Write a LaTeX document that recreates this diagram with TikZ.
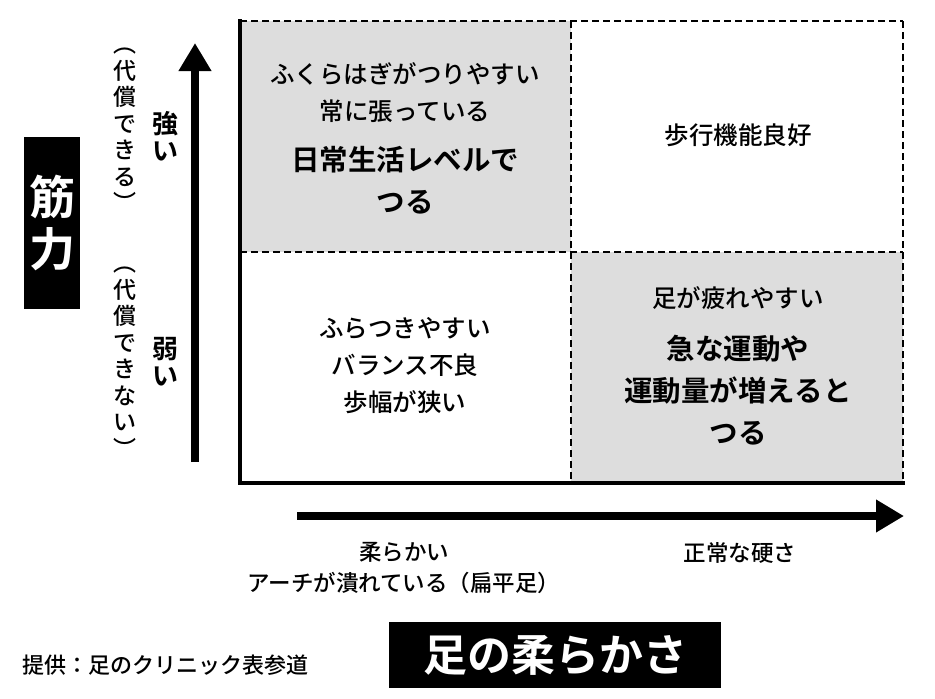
\documentclass[tikz,border=0pt]{standalone}
\usepackage{fontspec}
\setmainfont{Noto Sans CJK JP}[UprightFont=* Medium, BoldFont=* Bold]
\usetikzlibrary{arrows.meta}
\definecolor{cellgray}{RGB}{221,221,221}

\begin{document}
\begin{tikzpicture}[x=1pt,y=-1pt,
        gridline/.style={black, line width=1.4pt, dash pattern=on 7pt off 4pt},
        axisline/.style={black, line width=8.5pt, -{Triangle[length=28pt,width=31pt]}},
        reg/.style={align=center, inner sep=0pt, font=\fontsize{24.5}{37}\selectfont},
        bld/.style={align=center, inner sep=0pt, font=\fontsize{28.5}{42}\selectfont\bfseries},
        lbl/.style={align=center, inner sep=0pt, font=\fontsize{22.5}{31}\selectfont},
        vlbl/.style={align=center, inner sep=0pt, font=\fontsize{23}{26.5}\selectfont},
        vbld/.style={align=center, inner sep=0pt, font=\fontsize{26}{27}\selectfont\bfseries},
        titlebox/.style={fill=black, text=white, align=center, inner sep=0pt}]
        \useasboundingbox (0,0) rectangle (935,699);
        % quadrants
        \fill[cellgray] (240,21) rectangle (571,252);
        \fill[cellgray] (571,252) rectangle (903,483);
        \foreach \xa/\ya/\xb/\yb in {240/21/903/21, 903/21/903/483, 571/21/571/483, 240/252/903/252} {
                \draw[gridline] (\xa,\ya) -- (\xb,\yb);
            }
        \draw[black, line width=4pt] (240,19) -- (240,483) -- (905,483);
        % axes
        \coordinate (yfoot) at (195,462);
        \coordinate (ytip) at (195,43);
        \coordinate (xfoot) at (297,516);
        \coordinate (xtip) at (904,516);
        \draw[axisline] (yfoot) -- (ytip);
        \draw[axisline] (xfoot) -- (xtip);
        % cell texts
        \node[reg] (tlA) at (405,93) {ふくらはぎがつりやすい\\常に張っている};
        \node[bld] (tlB) at (405,180) {日常生活レベルで\\つる};
        \node[reg] (trA) at (738,135) {歩行機能良好};
        \node[reg] (blA) at (405,366) {ふらつきやすい\\バランス不良\\歩幅が狭い};
        \node[reg] (brA) at (738,298) {足が疲れやすい};
        \node[bld] (brB) at (738,390) {急な運動や\\運動量が増えると\\つる};
        % axis labels
        \node[vlbl] (strongnote) at (125,130) {︵\\代\\償\\で\\き\\る\\︶};
        \node[vbld] (strong) at (165,136) {強\\い};
        \node[vlbl] (weaknote) at (125,362) {︵\\代\\償\\で\\き\\な\\い\\︶};
        \node[vbld] (weak) at (165,362) {弱\\い};
        \node[lbl] (soft) at (404,568) {柔らかい\\アーチが潰れている（扁平足）};
        \node[lbl] (hard) at (740,553) {正常な硬さ};
        \node[titlebox, minimum width=56pt, minimum height=172pt,
            font=\fontsize{46}{52}\selectfont\bfseries] (yname) at (52,223) {筋\\力};
        \node[titlebox, minimum width=332pt, minimum height=66pt,
            font=\fontsize{44}{50}\selectfont\bfseries] (xname) at (555,655) {足の柔らかさ};
        \node[anchor=west, inner sep=0pt, font=\fontsize{22}{25}\selectfont] (credit) at (22,665) {提供：足のクリニック表参道};
    \end{tikzpicture}
\end{document}
